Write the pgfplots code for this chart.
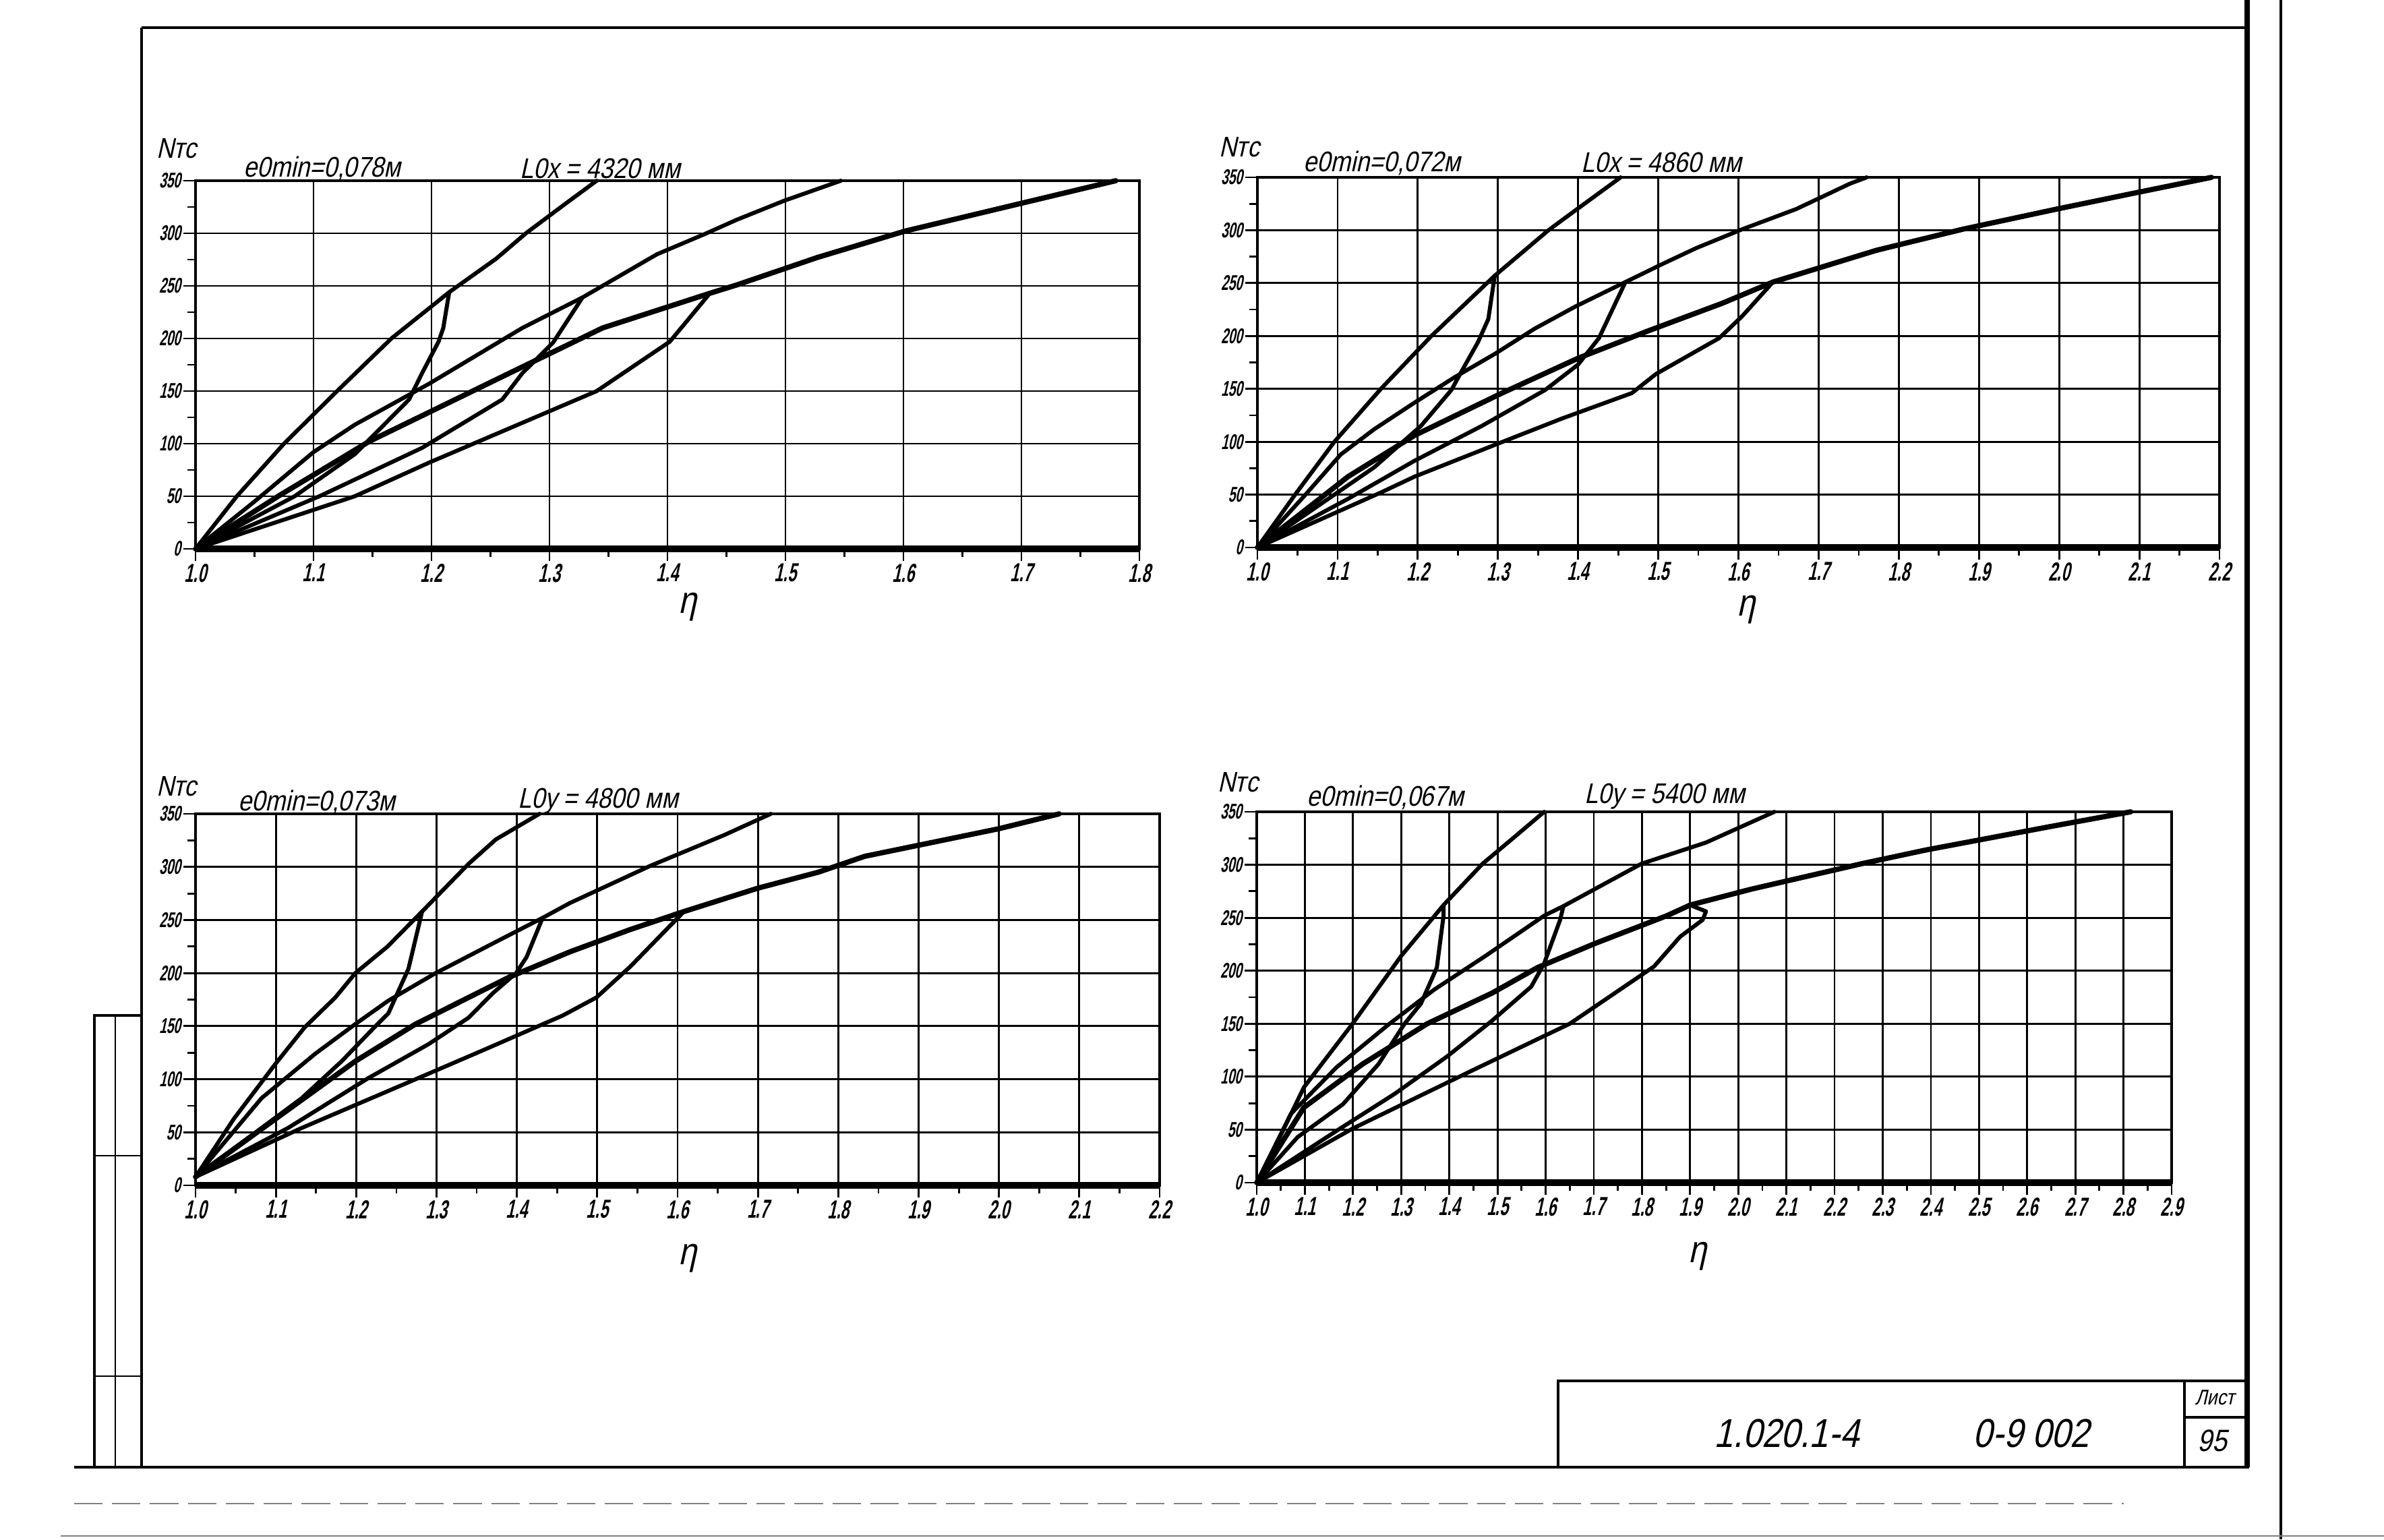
\documentclass[border=0pt]{standalone}
\usepackage{fontspec}
\usepackage{pgfplots}
\pgfplotsset{compat=1.18}
\newfontfamily\dr[FakeSlant=0.22,FakeStretch=0.85]{Liberation Sans}
\newfontfamily\drn[FakeSlant=0.22,FakeStretch=0.6]{Liberation Sans}
\newcommand\tit{\dr\fontsize{12}{12}\selectfont}
\newcommand\ntc{Nтс}
\pgfplotsset{
  drw/.style={
    scale only axis, anchor=south west,
    xmin=1, ymin=0, ymax=350,
    ytick={0,50,100,150,200,250,300,350},
    minor y tick num=1, minor x tick num=1,
    tick align=outside, tick pos=left,
    major tick length=0.18cm, minor tick length=0.12cm,
    grid=major,
    major grid style={black, line width=0.8pt},
    axis line style={black, line width=1.1pt},
    every tick/.style={black, line width=0.8pt},
    xticklabel style={font=\drn\bfseries\fontsize{11}{11}\selectfont, inner sep=1pt},
    yticklabel style={font=\drn\bfseries\fontsize{9}{9}\selectfont, inner sep=1pt},
    /pgf/number format/assume math mode=true,
    clip=false,
  },
  cv/.style={black, line width=1.7pt, line join=round, line cap=round, mark=none},
  cvt/.style={black, line width=2.2pt, line join=round, line cap=round, mark=none},
}
\begin{document}
\begin{tikzpicture}
\path[use as bounding box, fill=white] (0,0) rectangle (35.36,-22.83);

% ---------- plot 1 ----------
\begin{axis}[drw, at={(2.90cm,-8.14cm)}, width=14.00cm, height=5.46cm, xmax=1.8,
  xtick={1.0,1.1,1.2,1.3,1.4,1.5,1.6,1.7,1.8},
  xticklabels={1.0,1.1,1.2,1.3,1.4,1.5,1.6,1.7,1.8}]
\draw[line width=2.6pt] (axis cs:1,0) -- (axis cs:1.8,0);
\addplot[cv] coordinates {(1.000,0) (1.035,50) (1.075,100) (1.120,150) (1.166,200) (1.215,244) (1.255,276) (1.280,300) (1.311,326) (1.340,350)};
\addplot[cv] coordinates {(1.000,0) (1.084,50) (1.135,90) (1.181,142) (1.192,167) (1.206,197) (1.210,210) (1.215,244)};
\addplot[cv] coordinates {(1.000,0) (1.050,45) (1.100,92) (1.135,118) (1.198,157) (1.277,210) (1.328,239) (1.391,280) (1.431,299) (1.459,313) (1.499,331) (1.547,350)};
\addplot[cv] coordinates {(1.000,0) (1.105,50) (1.192,96) (1.260,142) (1.277,167) (1.303,196) (1.328,239)};
\addplot[cvt] coordinates {(1.000,0) (1.070,50) (1.147,102) (1.266,167) (1.345,210) (1.436,243) (1.459,251) (1.527,277) (1.601,302) (1.698,328) (1.780,350)};
\addplot[cv] coordinates {(1.000,0) (1.135,50) (1.198,82) (1.340,150) (1.402,197) (1.436,243)};
\end{axis}

% ---------- plot 2 ----------
\begin{axis}[drw, at={(18.65cm,-8.12cm)}, width=14.27cm, height=5.49cm, xmax=2.2,
  xtick={1.0,1.1,1.2,1.3,1.4,1.5,1.6,1.7,1.8,1.9,2.0,2.1,2.2},
  xticklabels={1.0,1.1,1.2,1.3,1.4,1.5,1.6,1.7,1.8,1.9,2.0,2.1,2.2}]
\draw[line width=2.6pt] (axis cs:1,0) -- (axis cs:2.2,0);
\addplot[cv] coordinates {(1.000,0) (1.047,50) (1.096,100) (1.154,150) (1.217,200) (1.296,257) (1.363,300) (1.397,319) (1.453,350)};
\addplot[cv] coordinates {(1.000,0) (1.146,76) (1.204,115) (1.242,149) (1.255,167) (1.275,194) (1.288,216) (1.296,257)};
\addplot[cv] coordinates {(1.000,0) (1.060,50) (1.104,88) (1.146,112) (1.196,137) (1.246,161) (1.296,183) (1.346,207) (1.397,228) (1.459,251) (1.505,268) (1.547,283) (1.605,301) (1.672,320) (1.739,344) (1.760,350)};
\addplot[cv] coordinates {(1.000,0) (1.113,46) (1.196,82) (1.280,115) (1.359,149) (1.400,173) (1.426,198) (1.459,251)};
\addplot[cvt] coordinates {(1.000,0) (1.113,67) (1.196,106) (1.305,146) (1.400,179) (1.488,205) (1.580,231) (1.643,251) (1.772,281) (1.880,301) (1.997,320) (2.093,335) (2.190,350)};
\addplot[cv] coordinates {(1.000,0) (1.154,52) (1.196,67) (1.296,97) (1.380,122) (1.467,146) (1.497,164) (1.576,198) (1.605,219) (1.643,251)};
\end{axis}

% ---------- plot 3 ----------
\begin{axis}[drw, at={(2.90cm,-17.58cm)}, width=14.30cm, height=5.51cm, xmax=2.2,
  xtick={1.0,1.1,1.2,1.3,1.4,1.5,1.6,1.7,1.8,1.9,2.0,2.1,2.2},
  xticklabels={1.0,1.1,1.2,1.3,1.4,1.5,1.6,1.7,1.8,1.9,2.0,2.1,2.2}]
\draw[line width=2.6pt] (axis cs:1,0) -- (axis cs:2.2,0);
\addplot[cv] coordinates {(1.000,8) (1.048,63) (1.099,114) (1.136,149) (1.174,177) (1.199,200) (1.239,225) (1.282,258) (1.340,303) (1.374,326) (1.428,350)};
\addplot[cv] coordinates {(1.000,8) (1.132,82) (1.182,117) (1.224,150) (1.240,162) (1.265,204) (1.282,258)};
\addplot[cv] coordinates {(1.000,8) (1.082,82) (1.149,124) (1.199,152) (1.240,174) (1.299,200) (1.378,231) (1.432,252) (1.466,266) (1.566,301) (1.658,330) (1.716,350)};
\addplot[cv] coordinates {(1.000,8) (1.115,54) (1.215,101) (1.290,133) (1.340,158) (1.370,181) (1.399,200) (1.412,215) (1.432,252)};
\addplot[cvt] coordinates {(1.000,8) (1.124,76) (1.199,117) (1.274,152) (1.390,196) (1.466,220) (1.541,241) (1.608,258) (1.700,280) (1.775,295) (1.833,310) (2.000,336) (2.075,350)};
\addplot[cv] coordinates {(1.000,8) (1.132,54) (1.274,100) (1.357,127) (1.457,160) (1.499,177) (1.541,206) (1.608,258)};
\end{axis}

% ---------- plot 4 ----------
\begin{axis}[drw, at={(18.64cm,-17.54cm)}, width=13.57cm, height=5.50cm, xmax=2.9,
  xtick={1.0,1.1,1.2,1.3,1.4,1.5,1.6,1.7,1.8,1.9,2.0,2.1,2.2,2.3,2.4,2.5,2.6,2.7,2.8,2.9},
  xticklabels={1.0,1.1,1.2,1.3,1.4,1.5,1.6,1.7,1.8,1.9,2.0,2.1,2.2,2.3,2.4,2.5,2.6,2.7,2.8,2.9}]
\draw[line width=2.6pt] (axis cs:1,0) -- (axis cs:2.9,0);
\addplot[cv] coordinates {(1.000,0) (1.050,45) (1.098,90) (1.199,150) (1.300,214) (1.388,262) (1.469,301) (1.532,325) (1.597,350)};
\addplot[cv] coordinates {(1.000,0) (1.085,43) (1.179,74) (1.253,112) (1.307,150) (1.341,169) (1.374,203) (1.388,252) (1.388,262)};
\addplot[cv] coordinates {(1.000,0) (1.071,65) (1.166,109) (1.273,149) (1.368,182) (1.475,214) (1.597,252) (1.637,261) (1.799,301) (1.933,321) (2.075,350)};
\addplot[cv] coordinates {(1.000,0) (1.166,49) (1.287,84) (1.395,119) (1.489,153) (1.570,185) (1.597,207) (1.630,248) (1.637,261)};
\addplot[cvt] coordinates {(1.000,0) (1.098,71) (1.220,112) (1.354,150) (1.489,179) (1.583,203) (1.704,226) (1.852,252) (1.900,262) (2.027,277) (2.256,301) (2.390,314) (2.647,336) (2.815,350)};
\addplot[cv] coordinates {(1.000,0) (1.199,51) (1.448,106) (1.650,150) (1.825,204) (1.879,232) (1.926,248) (1.933,256) (1.900,262)};
\end{axis}

% ---------- chart texts ----------
\node[font=\tit, inner sep=0pt] at (2.62,-2.20) {\ntc};
\node[font=\tit] at (4.78,-2.50) {e0min=0,078м};
\node[font=\tit] at (8.90,-2.50) {L0x = 4320 мм};
\node[font=\dr\fontsize{16}{16}\selectfont] at (10.20,-9.00) {η};

\node[font=\tit, inner sep=0pt] at (18.38,-2.18) {\ntc};
\node[font=\tit] at (20.50,-2.42) {e0min=0,072м};
\node[font=\tit] at (24.64,-2.41) {L0x = 4860 мм};
\node[font=\dr\fontsize{16}{16}\selectfont] at (25.90,-9.04) {η};

\node[font=\tit, inner sep=0pt] at (2.62,-11.66) {\ntc};
\node[font=\tit] at (4.70,-11.90) {e0min=0,073м};
\node[font=\tit] at (8.87,-11.88) {L0y = 4800 мм};
\node[font=\dr\fontsize{16}{16}\selectfont] at (10.20,-18.66) {η};

\node[font=\tit, inner sep=0pt] at (18.36,-11.60) {\ntc};
\node[font=\tit] at (20.55,-11.83) {e0min=0,067м};
\node[font=\tit] at (24.69,-11.81) {L0y = 5400 мм};
\node[font=\dr\fontsize{16}{16}\selectfont] at (25.18,-18.63) {η};

% ---------- drawing frame ----------
\draw[line width=1.3pt] (2.10,-0.41) -- (33.33,-0.41);
\draw[line width=1.3pt] (2.10,-0.41) -- (2.10,-21.76);
\draw[line width=2.2pt] (33.33,0) -- (33.33,-21.76);
\draw[line width=0.9pt] (33.83,0) -- (33.83,-22.83);
\draw[line width=1.2pt] (1.10,-21.76) -- (33.33,-21.76);
\draw[line width=0.5pt, gray, dash pattern=on 12pt off 4pt] (1.10,-22.30) -- (31.50,-22.30);
\draw[line width=0.6pt, gray] (0.90,-22.78) -- (35.36,-22.78);
% left strip
\draw[line width=1.0pt] (1.40,-15.06) rectangle (2.10,-21.76);
\draw[line width=0.8pt] (1.71,-15.06) -- (1.71,-21.76);
\draw[line width=0.8pt] (1.40,-17.14) -- (2.10,-17.14);
\draw[line width=0.8pt] (1.40,-20.41) -- (2.10,-20.41);
% title block
\draw[line width=1.4pt] (23.11,-20.48) rectangle (33.33,-21.76);
\draw[line width=1.2pt] (32.40,-20.48) -- (32.40,-21.76);
\draw[line width=1.0pt] (32.40,-21.02) -- (33.33,-21.02);
\node[font=\dr\fontsize{17}{17}\selectfont] at (26.50,-21.26) {1.020.1-4};
\node[font=\dr\fontsize{17}{17}\selectfont] at (30.13,-21.26) {0-9 002};
\node[font=\dr\fontsize{9}{9}\selectfont] at (32.85,-20.73) {Лист};
\node[font=\dr\fontsize{13}{13}\selectfont] at (32.81,-21.37) {95};
\end{tikzpicture}
\end{document}
